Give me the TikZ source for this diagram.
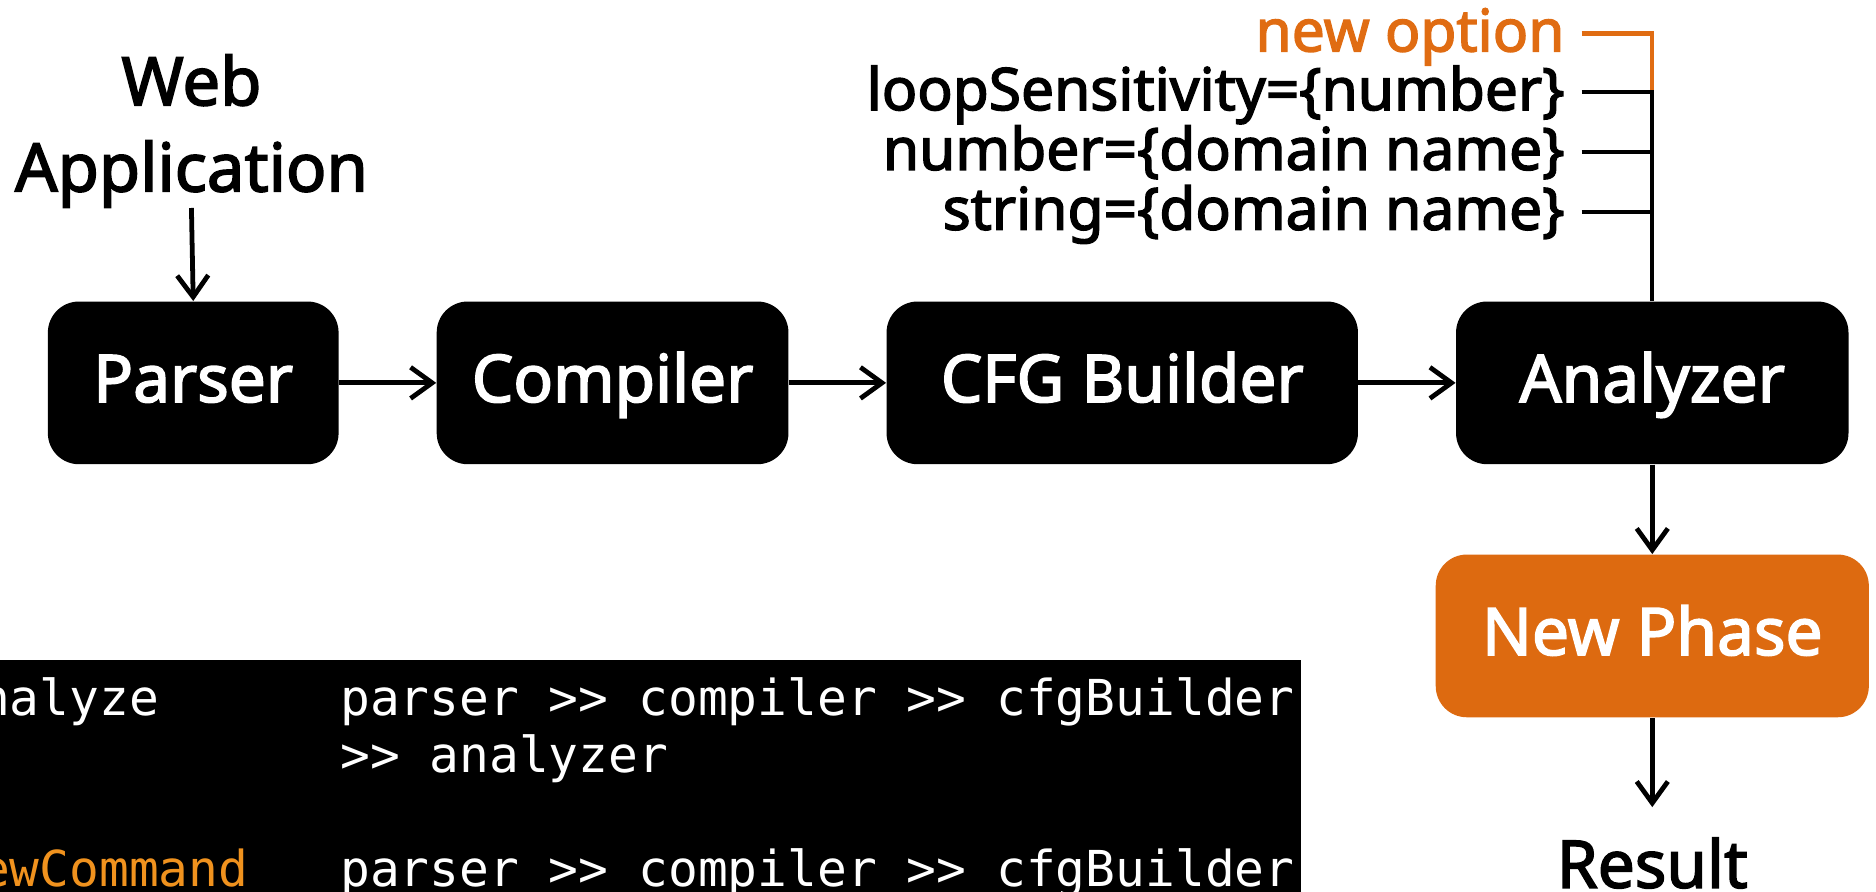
\documentclass[tikz,border=0pt]{standalone}
\usepackage{fontspec}
\setmainfont{Noto Sans}[FakeBold=2.4]
\newfontfamily\codefont{DejaVu Sans Mono}
\usetikzlibrary{arrows.meta}
\definecolor{phaseorange}{HTML}{DD6A10}
\definecolor{optorange}{HTML}{E06C12}
\definecolor{codeorange}{HTML}{F0921E}
\tikzset{
  phase/.style={rectangle, rounded corners=13pt, fill=black, text=white,
    minimum height=68pt, inner sep=0pt, font=\fontsize{27.5}{30}\selectfont,
    text height=20pt, text depth=4pt},
  optlabel/.style={anchor=base east, inner xsep=7pt, inner ysep=0pt,
    font=\fontsize{24.5}{28}\selectfont, text height=19pt, text depth=4pt},
  plainlabel/.style={inner sep=0pt, font=\fontsize{28}{32}\selectfont},
  codeline/.style={anchor=base west, inner sep=0pt, text=white,
    font=\codefont\fontsize{20.7}{24}\selectfont},
  flow/.style={line width=2pt, -{Straight Barb[length=9pt,width=13pt,line width=2pt]}},
  tick/.style={line width=1.7pt}
}
\begin{document}
\begin{tikzpicture}[x=0.5pt,y=-0.5pt]
\useasboundingbox (0,0) rectangle (1568,745);
\clip (0,0) rectangle (1568,745);
% input
\node[plainlabel, anchor=base] (webA) at (160,88) {Web};
\node[plainlabel, anchor=base] (webB) at (160,160) {Application};
% phases
\node[phase, minimum width=121.5pt] (parser) at (161.5,320) {Parser};
\node[phase, minimum width=147pt] (compiler) at (512,320) {Compiler};
\node[phase, minimum width=197pt] (cfg) at (938,320) {CFG Builder};
\node[phase, minimum width=164pt] (analyzer) at (1381,320) {Analyzer};
\node[phase, fill=phaseorange, minimum width=181pt] (newphase) at (1381,531.5) {New Phase};
\node[plainlabel, anchor=base, text height=20pt, inner ysep=13.5pt, inner xsep=0pt, font=\fontsize{27.5}{30}\selectfont] (result) at (1381,742) {Result};
% arrows
\draw[flow] (webB.south) -- (parser.north);
\draw[flow] (parser.east) -- (compiler.west);
\draw[flow] (compiler.east) -- (cfg.west);
\draw[flow] (cfg.east) -- (analyzer.west);
\draw[flow] (analyzer.south) -- (newphase.north);
\draw[flow] (newphase.south) -- (result.north);
% options
\node[optlabel, text=optorange] (opt1) at (1322,43) {new option};
\node[optlabel] (opt2) at (1322,92) {loopSensitivity=\{number\}};
\node[optlabel] (opt3) at (1322,142) {number=\{domain name\}};
\node[optlabel] (opt4) at (1322,192) {string=\{domain name\}};
\draw[tick, optorange] (opt1.east) -| (opt2.east -| analyzer.north);
\draw[tick] (opt2.east) -- (opt2.east -| analyzer.north) -- (analyzer.north);
\draw[tick] (opt3.east) -- (opt3.east -| analyzer.north);
\draw[tick] (opt4.east) -- (opt4.east -| analyzer.north);
% code box
\node[rectangle, fill=black, inner sep=0pt, minimum width=548.5pt, minimum height=110pt, anchor=north west] (code) at (-10,551) {};
\node[codeline] (c1a) at (-42,598) {analyze};
\node[codeline] (c1b) at (284,598) {parser >> compiler >> cfgBuilder};
\node[codeline] (c2b) at (284,646) {>> analyzer};
\node[codeline, text=codeorange] (c3a) at (-42,741) {newCommand};
\node[codeline] (c3b) at (284,741) {parser >> compiler >> cfgBuilder};
\end{tikzpicture}
\end{document}
